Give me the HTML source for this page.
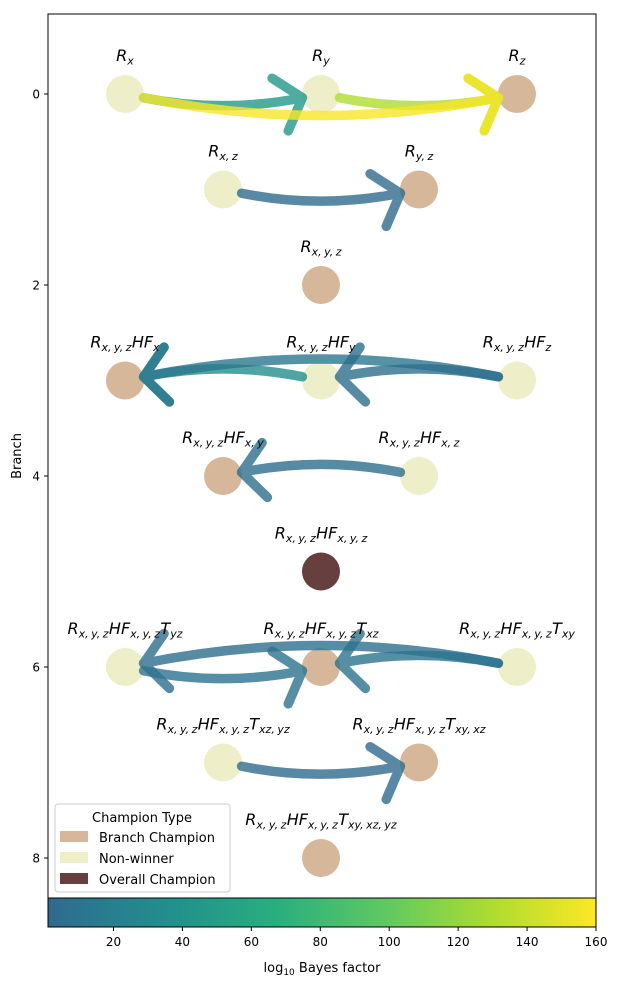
<!DOCTYPE html>
<html><head><meta charset="utf-8">
<style>
html,body{margin:0;padding:0;background:#fff;}
svg text{font-family:"DejaVu Sans","Liberation Sans",sans-serif;}
</style></head>
<body>
<svg id="chart" width="619" height="984" viewBox="0 0 619 984" xmlns="http://www.w3.org/2000/svg">
<defs>
<linearGradient id="cbgrad" x1="0" x2="1" y1="0" y2="0">
<stop offset="0" stop-color="#31688e"/>
<stop offset="0.04" stop-color="#2c728e"/>
<stop offset="0.23" stop-color="#21918c"/>
<stop offset="0.42" stop-color="#29af7f"/>
<stop offset="0.615" stop-color="#5ec962"/>
<stop offset="0.81" stop-color="#addc30"/>
<stop offset="1" stop-color="#fde725"/>
</linearGradient>
</defs>
<rect x="48" y="14" width="548" height="884" fill="#fff" stroke="#000" stroke-width="1"/>
<g id="nodes"></g>
<g id="edges"></g>
<g id="labels"></g>
<g id="yaxis"></g>
<text x="21" y="456" font-size="13" text-anchor="middle" transform="rotate(-90 21 456)">Branch</text>
<g>
<rect x="55" y="804" width="175" height="88" rx="3" fill="#fff" fill-opacity="0.8" stroke="#ccc"/>
<text x="142" y="822" font-size="13" text-anchor="middle">Champion Type</text>
<rect x="60" y="831" width="28" height="11" fill="#d6b799"/>
<text x="99" y="842" font-size="13">Branch Champion</text>
<rect x="60" y="852" width="28" height="11" fill="#eeeec9"/>
<text x="99" y="863" font-size="13">Non-winner</text>
<rect x="60" y="873" width="28" height="11" fill="#673f3f"/>
<text x="99" y="884" font-size="13">Overall Champion</text>
</g>
<rect x="48" y="898" width="548" height="29" fill="url(#cbgrad)" stroke="#000" stroke-width="1"/>
<g id="cbticks"></g>
<text x="322" y="972" font-size="13" text-anchor="middle">log<tspan font-size="9" dy="3">10</tspan><tspan dy="-3"> Bayes factor</tspan></text>
</svg>
<script>
// data
const nodeNames = ["Rx","Ry","Rz","Rxz","Ryz","Rxyz","HFx","HFy","HFz","HFxy","HFxz","HFxyz","Tyz","Txz","Txy","Txzyz","Txyxz","Txyxzyz"];
const nodeCols = [1,3,5,2,4,3,1,3,5,2,4,3,1,3,5,2,4,3];
const nodeBranches = [0,0,0,1,1,2,3,3,3,4,4,5,6,6,6,7,7,8];
const nodeTypes = ["N","N","B","N","B","B","B","N","N","B","N","O","N","B","N","N","B","B"];
const nodeLabels = [
 [["R","x"]],[["R","y"]],[["R","z"]],[["R","x, z"]],[["R","y, z"]],[["R","x, y, z"]],
 [["R","x, y, z"],["HF","x"]],[["R","x, y, z"],["HF","y"]],[["R","x, y, z"],["HF","z"]],
 [["R","x, y, z"],["HF","x, y"]],[["R","x, y, z"],["HF","x, z"]],[["R","x, y, z"],["HF","x, y, z"]],
 [["R","x, y, z"],["HF","x, y, z"],["T","yz"]],[["R","x, y, z"],["HF","x, y, z"],["T","xz"]],[["R","x, y, z"],["HF","x, y, z"],["T","xy"]],
 [["R","x, y, z"],["HF","x, y, z"],["T","xz, yz"]],[["R","x, y, z"],["HF","x, y, z"],["T","xy, xz"]],[["R","x, y, z"],["HF","x, y, z"],["T","xy, xz, yz"]]
];
const edgeFrom = [0,1,0,3,7,8,8,10,14,12,14,15];
const edgeTo   = [1,2,2,4,6,6,7,9,12,13,13,16];
const edgeValues = [45,130,158,3,35,12,5,5,5,8,8,3];
const yTicks = [0,2,4,6,8];
const cbTicks = [20,40,60,80,100,120,140,160];

const NS="http://www.w3.org/2000/svg";
const xOf = c => 125 + (c-1)*98;
const yOf = b => 94 + b*95.5;
const vmin=1, vmax=160;
const cbX = v => 48 + (v-vmin)/(vmax-vmin)*548;
const stops=[[0.35,[49,104,142]],[0.375,[44,114,142]],[0.5,[33,145,140]],[0.625,[41,175,127]],[0.75,[94,201,98]],[0.875,[173,220,48]],[1,[253,231,37]]];
function viridis(v){
  let t=0.35+0.65*Math.max(0,Math.min(1,(v-vmin)/(vmax-vmin)));
  for(let i=0;i<stops.length-1;i++){
    const a=stops[i],b=stops[i+1];
    if(t<=b[0]){const f=(t-a[0])/(b[0]-a[0]);
      const c=a[1].map((x,k)=>Math.round(x+(b[1][k]-x)*f));
      return `rgb(${c[0]},${c[1]},${c[2]})`;}
  }
  return "rgb(253,231,37)";
}
const fills={N:"#eeeec9",B:"#d6b799",O:"#673f3f"};
const R=19;

const gE=document.getElementById("edges");
edgeFrom.forEach((f,i)=>{
  const t=edgeTo[i];
  const x1=xOf(nodeCols[f]),y1=yOf(nodeBranches[f]),x2=xOf(nodeCols[t]),y2=yOf(nodeBranches[t]);
  const dx=x2-x1,dy=y2-y1,rad=0.1;
  const cx=(x1+x2)/2 - rad*dy, cy=(y1+y2)/2 + rad*dx;
  let ax=cx-x1,ay=cy-y1,al=Math.hypot(ax,ay); const sx=x1+ax/al*R, sy=y1+ay/al*R;
  let bx=x2-cx,by=y2-cy,bl=Math.hypot(bx,by); const ux0=bx/bl,uy0=by/bl; const ex=x2-ux0*R, ey=y2-uy0*R;
  let th=Math.atan2(uy0,ux0) + (dx>0?-0.1:0.1);
  const ux=Math.cos(th), uy=Math.sin(th);
  const col=viridis(edgeValues[i]);
  const g=document.createElementNS(NS,"g");
  
  
  g.setAttribute("opacity","0.8");
  const p=document.createElementNS(NS,"path");
  p.setAttribute("d",`M${sx},${sy} Q${cx},${cy} ${ex},${ey}`);
  p.setAttribute("fill","none");p.setAttribute("stroke",col);p.setAttribute("stroke-width","9.5");p.setAttribute("stroke-linecap","round");
  g.appendChild(p);
  const L=36,ang=0.87;
  [ang,-ang].forEach(a=>{
    const rx=-ux*Math.cos(a)+uy*Math.sin(a), ry=-uy*Math.cos(a)-ux*Math.sin(a);
    const l=document.createElementNS(NS,"line");
    l.setAttribute("x1",ex);l.setAttribute("y1",ey);l.setAttribute("x2",ex+rx*L);l.setAttribute("y2",ey+ry*L);
    l.setAttribute("stroke",col);l.setAttribute("stroke-width","9.5");l.setAttribute("stroke-linecap","round");
    g.appendChild(l);
  });
  gE.appendChild(g);
});

const gN=document.getElementById("nodes"), gL=document.getElementById("labels");
nodeNames.forEach((n,i)=>{
  const x=xOf(nodeCols[i]),y=yOf(nodeBranches[i]);
  const c=document.createElementNS(NS,"circle");
  
  
  c.setAttribute("cx",x);c.setAttribute("cy",y);c.setAttribute("r",R);c.setAttribute("fill",fills[nodeTypes[i]]);
  gN.appendChild(c);
  const tx=document.createElementNS(NS,"text");
  
  
  tx.setAttribute("x",x);tx.setAttribute("y",y-33);tx.setAttribute("text-anchor","middle");
  tx.setAttribute("font-size","16");tx.setAttribute("font-style","italic");
  let html="";
  nodeLabels[i].forEach(([m,s])=>{
    html+=`<tspan>${m}</tspan><tspan font-size="11" dy="3.5" word-spacing="-1">${s}</tspan><tspan font-size="1" dy="-3.5"> </tspan>`;
  });
  tx.innerHTML=html;
  gL.appendChild(tx);
});

const gY=document.getElementById("yaxis");
yTicks.forEach(v=>{
  const y=yOf(v);
  const l=document.createElementNS(NS,"line");
  
  
  l.setAttribute("x1",44);l.setAttribute("x2",48);l.setAttribute("y1",y);l.setAttribute("y2",y);l.setAttribute("stroke","#000");
  gY.appendChild(l);
  const t=document.createElementNS(NS,"text");
  
  
  t.setAttribute("x",40);t.setAttribute("y",y+4.5);t.setAttribute("text-anchor","end");t.setAttribute("font-size","12");
  t.textContent=v;gY.appendChild(t);
});
const gC=document.getElementById("cbticks");
cbTicks.forEach(v=>{
  const x=cbX(v);
  const l=document.createElementNS(NS,"line");
  
  
  l.setAttribute("x1",x);l.setAttribute("x2",x);l.setAttribute("y1",927);l.setAttribute("y2",931);l.setAttribute("stroke","#000");
  gC.appendChild(l);
  const t=document.createElementNS(NS,"text");
  
  
  t.setAttribute("x",x);t.setAttribute("y",946);t.setAttribute("text-anchor","middle");t.setAttribute("font-size","12");
  t.textContent=v;gC.appendChild(t);
});
</script>
</body></html>
